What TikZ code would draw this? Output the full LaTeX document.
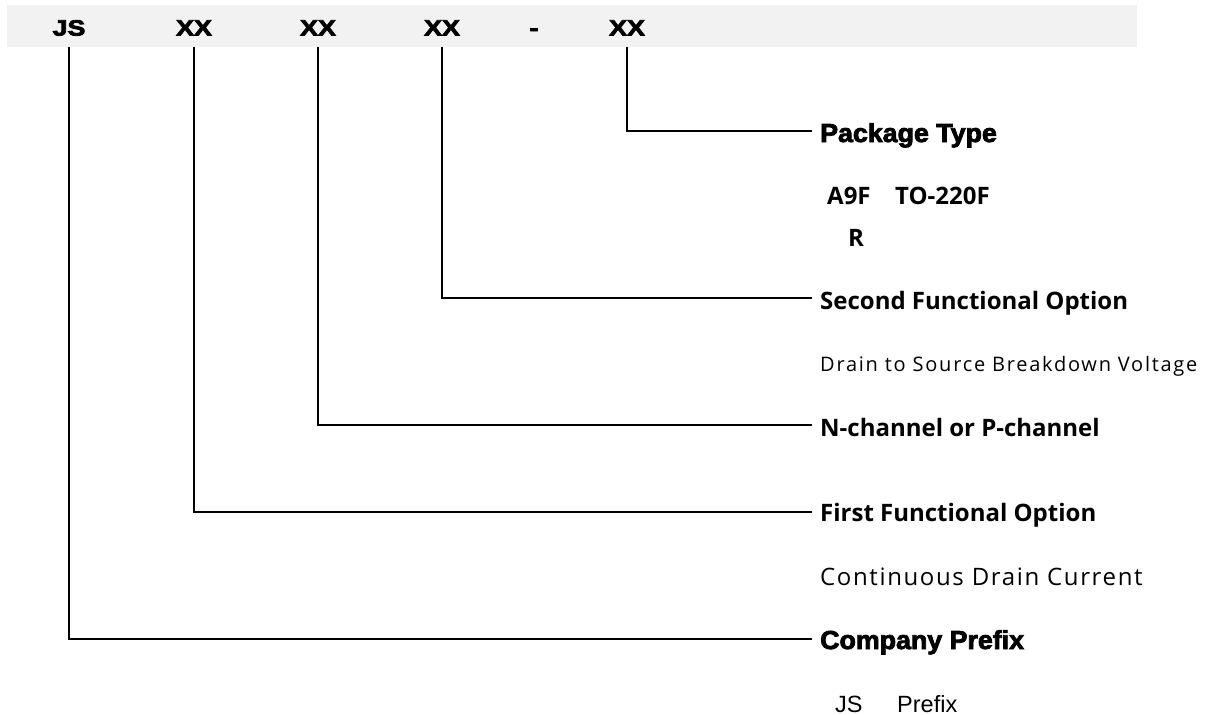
\documentclass[tikz,border=0pt]{standalone}
\usepackage{fontspec}
\setmainfont{Open Sans}
\newfontfamily\codefont[FakeStretch=1.22,FakeBold=3.5]{Liberation Sans Bold}
\newfontfamily\heavyfont[FakeStretch=1.03,FakeBold=3]{Liberation Sans Bold}
\newfontfamily\plainfont{Liberation Sans}
\newfontfamily\widefont[LetterSpace=8.7]{Open Sans}
\newfontfamily\midfont[LetterSpace=6.8]{Open Sans}
\definecolor{bandgray}{HTML}{F2F2F2}

\begin{document}
\begin{tikzpicture}[x=1pt,y=-1pt,
  code/.style={anchor=base, inner sep=0pt, font=\codefont\fontsize{22}{25}\selectfont},
  head/.style={anchor=base west, inner sep=0pt, font=\heavyfont\fontsize{26}{30}\selectfont},
  title/.style={anchor=base west, inner sep=0pt, font=\bfseries\fontsize{24}{28}\selectfont},
  note/.style={anchor=base west, inner sep=0pt, font=\midfont\fontsize{24}{28}\selectfont},
  smallnote/.style={anchor=base west, inner sep=0pt, font=\widefont\fontsize{20}{24}\selectfont},
  arial/.style={anchor=base west, inner sep=0pt, font=\plainfont\fontsize{23.5}{28}\selectfont},
  leader/.style={line width=2pt},
]
\useasboundingbox (0,0) rectangle (1208,715);

% grey band carrying the part number pattern
\node[fill=bandgray, inner sep=0pt, minimum width=1130pt, minimum height=42pt,
      anchor=north west] (band) at (7,5) {};
\node[code] (c1) at (69,35.5) {JS};
\node[code] (c2) at (194,35.5) {XX};
\node[code] (c3) at (318,35.5) {XX};
\node[code] (c4) at (442,35.5) {XX};
\node[code] (dash) at (534,35.5) {-};
\node[code] (c5) at (627,35.5) {XX};

% field descriptions
\node[head]  (pkg)     at (820,142) {Package Type};
\node[title] (pkgA)    at (827,204) {A9F};
\node[title] (pkgB)    at (895,204) {TO-220F};
\node[title] (pkgR)    at (848,246) {R};
\node[title] (second)  at (820,309) {Second Functional Option};
\node[smallnote] (vds) at (820,371) {Drain to Source Breakdown Voltage};
\node[title] (chan)    at (820,436) {N-channel or P-channel};
\node[title] (first)   at (820,521) {First Functional Option};
\node[note]  (idc)     at (820,585) {Continuous Drain Current};
\node[head]  (company) at (820,649) {Company Prefix};
\node[arial] (jsA)     at (835,712) {JS};
\node[arial] (jsB)     at (897,712) {Prefix};

% leader lines from each field to its description
\draw[leader] (c5 |- band.south) |- ([xshift=-8pt,yshift=11pt]pkg.base west);
\draw[leader] (c4 |- band.south) |- ([xshift=-8pt,yshift=11pt]second.base west);
\draw[leader] (c3 |- band.south) |- ([xshift=-8pt,yshift=11pt]chan.base west);
\draw[leader] (c2 |- band.south) |- ([xshift=-8pt,yshift=9pt]first.base west);
\draw[leader] (c1 |- band.south) |- ([xshift=-8pt,yshift=10pt]company.base west);
\end{tikzpicture}
\end{document}
